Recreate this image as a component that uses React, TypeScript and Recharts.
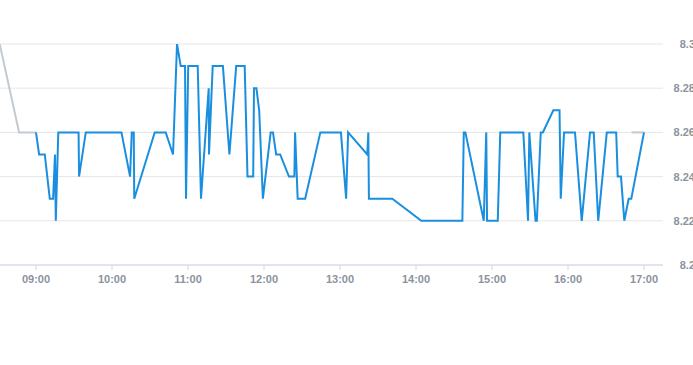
import React from "react";
import { LineChart, Line, XAxis, YAxis, CartesianGrid } from "recharts";

const blueTimes = [
  "09:00:00", "09:02:27", "09:06:56", "09:10:53", "09:13:30", "09:15:00", "09:15:37", "09:17:36",
  "09:33:37", "09:34:00", "09:39:18", "10:07:28", "10:14:15", "10:15:36", "10:17:10", "10:17:34",
  "10:33:44", "10:42:25", "10:48:11", "10:51:20", "10:54:15", "10:57:39", "10:58:26", "11:00:10",
  "11:07:40", "11:10:16", "11:16:21", "11:16:35", "11:19:30", "11:27:33", "11:32:41", "11:38:03",
  "11:44:45", "11:46:58", "11:51:28", "11:52:06", "11:54:00", "11:56:12", "11:59:07", "12:05:16",
  "12:07:05", "12:09:36", "12:12:46", "12:19:42", "12:23:58", "12:24:32", "12:26:35", "12:32:30",
  "12:44:29", "13:00:44", "13:04:50", "13:06:25", "13:21:30", "13:22:22", "13:22:50", "13:41:18",
  "14:04:11", "14:36:36", "14:37:43", "14:38:59", "14:53:30", "14:55:28", "14:56:06", "15:04:33",
  "15:06:31", "15:24:44", "15:28:27", "15:29:28", "15:34:22", "15:35:24", "15:38:29", "15:40:08",
  "15:48:25", "15:53:19", "15:54:16", "15:56:52", "16:05:32", "16:10:50", "16:17:23", "16:20:18",
  "16:23:51", "16:30:38", "16:38:03", "16:39:14", "16:41:50", "16:44:27", "16:47:54", "16:49:58",
  "17:00:00",
];

const blueValues = [
  8.26, 8.25, 8.25, 8.23, 8.23, 8.25, 8.22, 8.26,
  8.26, 8.24, 8.26, 8.26, 8.24, 8.26, 8.26, 8.23,
  8.26, 8.26, 8.25, 8.30, 8.29, 8.29, 8.23, 8.29,
  8.29, 8.23, 8.28, 8.25, 8.29, 8.29, 8.25, 8.29,
  8.29, 8.24, 8.24, 8.28, 8.28, 8.27, 8.23, 8.26,
  8.26, 8.25, 8.25, 8.24, 8.24, 8.26, 8.23, 8.23,
  8.26, 8.26, 8.23, 8.26, 8.25, 8.26, 8.23, 8.23,
  8.22, 8.22, 8.26, 8.26, 8.22, 8.26, 8.22, 8.22,
  8.26, 8.26, 8.22, 8.26, 8.22, 8.22, 8.26, 8.26,
  8.27, 8.27, 8.23, 8.26, 8.26, 8.22, 8.26, 8.26,
  8.22, 8.26, 8.26, 8.24, 8.24, 8.22, 8.23, 8.23,
  8.26,
];

const grayStartTimes = ["08:31:20", "08:46:40", "09:00:00"];
const grayStartValues = [8.3, 8.26, 8.26];
const grayEndTimes = ["16:50:10", "17:00:00"];
const grayEndValues = [8.26, 8.26];

const xTickLabels = ["09:00", "10:00", "11:00", "12:00", "13:00", "14:00", "15:00", "16:00", "17:00"];
const yTicks = [8.2, 8.22, 8.24, 8.26, 8.28, 8.3];

const toMin = (s: string) => {
  const p = s.split(":").map(Number);
  return p[0] * 60 + p[1] + (p[2] || 0) / 60;
};

const build = (times: string[], vals: number[]) =>
  times.map((t, i) => ({ t: toMin(t), v: vals[i] }));

const blueData = build(blueTimes, blueValues);
const grayA = build(grayStartTimes, grayStartValues);
const grayB = build(grayEndTimes, grayEndValues);

const xTicks = xTickLabels.map(toMin);

const fmt = (m: number) => {
  const h = Math.floor(m / 60);
  const mm = Math.round(m - h * 60);
  return `${String(h).padStart(2, "0")}:${String(mm).padStart(2, "0")}`;
};

const FONT = '"Liberation Sans", Arial, sans-serif';
const LABEL = "#8b939e";

const YTick = (props: any) => {
  const { y, payload } = props;
  return (
    <text x={697} y={y} dy={4} textAnchor="end" fill={LABEL} fontSize={11} fontWeight="bold" fontFamily={FONT}>
      {String(payload.value)}
    </text>
  );
};

export default function App() {
  return (
    <div style={{ position: "absolute", left: 0, top: 0, width: 693, height: 365, overflow: "hidden", background: "#fff" }}>
      <div style={{ position: "absolute", left: -2, top: 0 }}>
        <LineChart width={712} height={365} margin={{ top: 44, right: 0, bottom: 0, left: 0 }}>
          <CartesianGrid vertical={false} stroke="#e6e6e6" strokeWidth={1} />
          <XAxis
            dataKey="t"
            type="number"
            domain={[510, 1035]}
            allowDataOverflow
            ticks={xTicks}
            tickFormatter={fmt}
            height={100}
            stroke="#ccd6eb"
            tickSize={5}
            tickMargin={5}
            tick={{ fill: LABEL, fontSize: 11, fontWeight: "bold", fontFamily: FONT }}
            interval={0}
          />
          <YAxis
            orientation="right"
            type="number"
            domain={[8.2, 8.3]}
            ticks={yTicks}
            width={47}
            axisLine={false}
            tickLine={false}
            tick={<YTick />}
            interval={0}
            allowDataOverflow
          />
          <Line data={grayA} dataKey="v" type="linear" stroke="#c3cad1" strokeWidth={2} dot={false} activeDot={false} isAnimationActive={false} />
          <Line data={grayB} dataKey="v" type="linear" stroke="#c3cad1" strokeWidth={2} dot={false} activeDot={false} isAnimationActive={false} />
          <Line data={blueData} dataKey="v" type="linear" stroke="#1b8fdf" strokeWidth={2} dot={false} activeDot={false} isAnimationActive={false} />
        </LineChart>
      </div>
    </div>
  );
}
